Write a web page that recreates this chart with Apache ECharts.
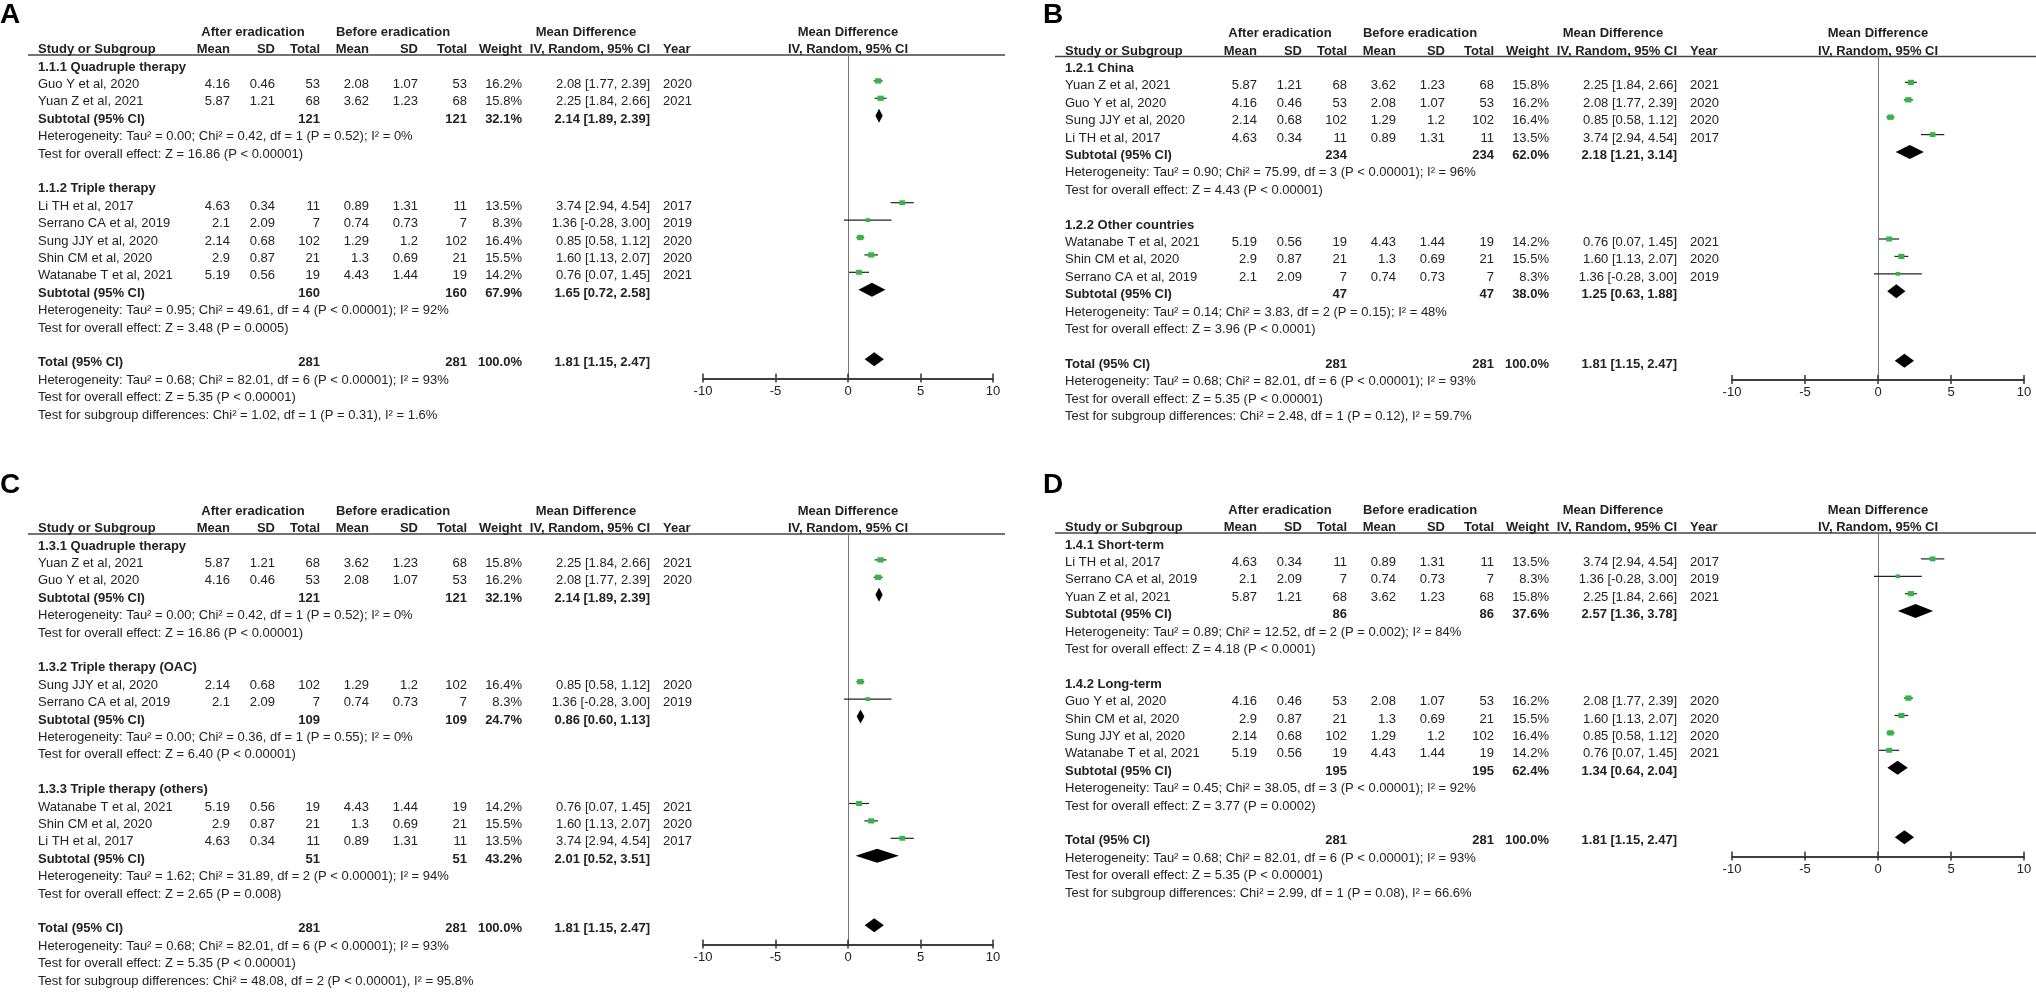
<!DOCTYPE html>
<html>
<head>
<meta charset="utf-8">
<title>Forest plots A-D</title>
<script src="https://cdn.jsdelivr.net/npm/echarts@6/dist/echarts.min.js"></script>
<style>
html, body { margin: 0; padding: 0; background: #fff; }
#chart { width: 2036px; height: 993px; }
</style>
</head>
<body>
<div id="chart"></div>
<script>
// ---- data ----
// the seven studies, reused (in different orders) by every panel
const studyNames = ['Guo Y et al, 2020', 'Yuan Z et al, 2021', 'Li TH et al, 2017', 'Serrano CA et al, 2019',
  'Sung JJY et al, 2020', 'Shin CM et al, 2020', 'Watanabe T et al, 2021'];
const afterMean = [4.16, 5.87, 4.63, 2.1, 2.14, 2.9, 5.19];
const afterSD = [0.46, 1.21, 0.34, 2.09, 0.68, 0.87, 0.56];
const afterTotal = [53, 68, 11, 7, 102, 21, 19];
const beforeMean = [2.08, 3.62, 0.89, 0.74, 1.29, 1.3, 4.43];
const beforeSD = [1.07, 1.23, 1.31, 0.73, 1.2, 0.69, 1.44];
const beforeTotal = [53, 68, 11, 7, 102, 21, 19];
const studyWeight = [16.2, 15.8, 13.5, 8.3, 16.4, 15.5, 14.2];
const studyMD = [2.08, 2.25, 3.74, 1.36, 0.85, 1.60, 0.76];
const studyLow = [1.77, 1.84, 2.94, -0.28, 0.58, 1.13, 0.07];
const studyHigh = [2.39, 2.66, 4.54, 3.00, 1.12, 2.07, 1.45];
const studyYear = [2020, 2021, 2017, 2019, 2020, 2020, 2021];

// subgroups per panel (A, B, C, D)
const panelNames = ['A', 'B', 'C', 'D'];
const groupTitles = [
  ['1.1.1 Quadruple therapy', '1.1.2 Triple therapy'],
  ['1.2.1 China', '1.2.2 Other countries'],
  ['1.3.1 Quadruple therapy', '1.3.2 Triple therapy (OAC)', '1.3.3 Triple therapy (others)'],
  ['1.4.1 Short-term', '1.4.2 Long-term']
];
const groupMembers = [
  [[0, 1], [2, 3, 4, 5, 6]],
  [[1, 0, 4, 2], [6, 5, 3]],
  [[1, 0], [4, 3], [6, 5, 2]],
  [[2, 3, 1], [0, 5, 4, 6]]
];
const groupTotal = [[121, 160], [234, 47], [121, 109, 51], [86, 195]];
const groupWeight = [[32.1, 67.9], [62.0, 38.0], [32.1, 24.7, 43.2], [37.6, 62.4]];
const groupMD = [[2.14, 1.65], [2.18, 1.25], [2.14, 0.86, 2.01], [2.57, 1.34]];
const groupLow = [[1.89, 0.72], [1.21, 0.63], [1.89, 0.60, 0.52], [1.36, 0.64]];
const groupHigh = [[2.39, 2.58], [3.14, 1.88], [2.39, 1.13, 3.51], [3.78, 2.04]];
const groupHeterogeneity = [
  ['Tau² = 0.00; Chi² = 0.42, df = 1 (P = 0.52); I² = 0%', 'Tau² = 0.95; Chi² = 49.61, df = 4 (P < 0.00001); I² = 92%'],
  ['Tau² = 0.90; Chi² = 75.99, df = 3 (P < 0.00001); I² = 96%', 'Tau² = 0.14; Chi² = 3.83, df = 2 (P = 0.15); I² = 48%'],
  ['Tau² = 0.00; Chi² = 0.42, df = 1 (P = 0.52); I² = 0%', 'Tau² = 0.00; Chi² = 0.36, df = 1 (P = 0.55); I² = 0%',
    'Tau² = 1.62; Chi² = 31.89, df = 2 (P < 0.00001); I² = 94%'],
  ['Tau² = 0.89; Chi² = 12.52, df = 2 (P = 0.002); I² = 84%', 'Tau² = 0.45; Chi² = 38.05, df = 3 (P < 0.00001); I² = 92%']
];
const groupEffect = [
  ['Z = 16.86 (P < 0.00001)', 'Z = 3.48 (P = 0.0005)'],
  ['Z = 4.43 (P < 0.00001)', 'Z = 3.96 (P < 0.0001)'],
  ['Z = 16.86 (P < 0.00001)', 'Z = 6.40 (P < 0.00001)', 'Z = 2.65 (P = 0.008)'],
  ['Z = 4.18 (P < 0.0001)', 'Z = 3.77 (P = 0.0002)']
];
const subgroupDifferences = [
  'Chi² = 1.02, df = 1 (P = 0.31), I² = 1.6%',
  'Chi² = 2.48, df = 1 (P = 0.12), I² = 59.7%',
  'Chi² = 48.08, df = 2 (P < 0.00001), I² = 95.8%',
  'Chi² = 2.99, df = 1 (P = 0.08), I² = 66.6%'
];
// overall pooled result (same in every panel)
const overallTotal = 281;
const overallWeight = 100.0;
const overallMD = 1.81;
const overallLow = 1.15;
const overallHigh = 2.47;
const overallHeterogeneity = 'Tau² = 0.68; Chi² = 82.01, df = 6 (P < 0.00001); I² = 93%';
const overallEffect = 'Z = 5.35 (P < 0.00001)';
const axisTicks = [-10, -5, 0, 5, 10];

// ---- layout ----
const FONT = '"Liberation Sans", Arial, sans-serif';
const TEXT = '#222';
const GREEN = '#35b546';
const PITCH = 17.4;   // row height in px
const MARK_DY = -3.5; // marks sit a little above the text middle
// column anchors, relative to the panel's table origin
const COL = { study: 38, mean1: 230, sd1: 275, n1: 320, mean2: 369, sd2: 418, n2: 467,
  weight: 522, ci: 650, year: 663, afterHead: 253, beforeHead: 393, mdHead: 586 };
const panelLayout = [
  { dx: 0, row0: 67, plotLeft: 703, plotWidth: 290, ruleRight: 1005, labelX: 0, labelY: 15 },
  { dx: 1027, row0: 68.5, plotLeft: 1732, plotWidth: 292, ruleRight: 2036, labelX: 1043, labelY: 15 },
  { dx: 0, row0: 546, plotLeft: 703, plotWidth: 290, ruleRight: 1005, labelX: 0, labelY: 485 },
  { dx: 1027, row0: 545, plotLeft: 1732, plotWidth: 292, ruleRight: 2036, labelX: 1043, labelY: 485 }
];

let fmtCI = (m, lo, hi) => m.toFixed(2) + ' [' + lo.toFixed(2) + ', ' + hi.toFixed(2) + ']';

// lay out the rows of one panel (row index -> line of the table)
let buildRows = p => {
  let rows = [{ kind: 'head1', idx: -2 }, { kind: 'head2', idx: -1 }];
  let k = 0;
  groupTitles[p].forEach((title, g) => {
    rows.push({ kind: 'title', idx: k++, text: title });
    groupMembers[p][g].forEach(s => rows.push({ kind: 'study', idx: k++, s: s }));
    rows.push({ kind: 'pooled', idx: k++, label: 'Subtotal (95% CI)', n: groupTotal[p][g], w: groupWeight[p][g],
      md: groupMD[p][g], lo: groupLow[p][g], hi: groupHigh[p][g] });
    rows.push({ kind: 'note', idx: k++, text: 'Heterogeneity: ' + groupHeterogeneity[p][g] });
    rows.push({ kind: 'note', idx: k++, text: 'Test for overall effect: ' + groupEffect[p][g] });
    k++; // blank line
  });
  let totalIdx = k;
  rows.push({ kind: 'pooled', idx: k++, label: 'Total (95% CI)', n: overallTotal, w: overallWeight,
    md: overallMD, lo: overallLow, hi: overallHigh });
  rows.push({ kind: 'note', idx: k++, text: 'Heterogeneity: ' + overallHeterogeneity });
  rows.push({ kind: 'note', idx: k++, text: 'Test for overall effect: ' + overallEffect });
  rows.push({ kind: 'note', idx: k++, text: 'Test for subgroup differences: ' + subgroupDifferences[p] });
  return { rows: rows, totalIdx: totalIdx };
};

let txt = (text, x, y, align, bold) => ({
  type: 'text',
  style: {
    text: String(text), x: x, y: y,
    align: align, textAlign: align, verticalAlign: 'middle', textVerticalAlign: 'middle',
    fill: TEXT, font: (bold ? 'bold ' : '') + '13px ' + FONT
  }
});

let makeRenderer = (rows, lay) => (params, api) => {
  let r = rows[params.dataIndex];
  let y = api.coord([0, r.idx])[1];
  let ym = y + MARK_DY;
  let X = c => lay.dx + c;
  let kids = [];
  if (r.kind === 'head1') {
    kids.push(txt('After eradication', X(COL.afterHead), y, 'center', true));
    kids.push(txt('Before eradication', X(COL.beforeHead), y, 'center', true));
    kids.push(txt('Mean Difference', X(COL.mdHead), y, 'center', true));
    kids.push(txt('Mean Difference', api.coord([0, r.idx])[0], y, 'center', true));
  } else if (r.kind === 'head2') {
    kids.push(txt('Study or Subgroup', X(COL.study), y, 'left', true));
    kids.push(txt('Mean', X(COL.mean1), y, 'right', true));
    kids.push(txt('SD', X(COL.sd1), y, 'right', true));
    kids.push(txt('Total', X(COL.n1), y, 'right', true));
    kids.push(txt('Mean', X(COL.mean2), y, 'right', true));
    kids.push(txt('SD', X(COL.sd2), y, 'right', true));
    kids.push(txt('Total', X(COL.n2), y, 'right', true));
    kids.push(txt('Weight', X(COL.weight), y, 'right', true));
    kids.push(txt('IV, Random, 95% CI', X(COL.ci), y, 'right', true));
    kids.push(txt('Year', X(COL.year), y, 'left', true));
    kids.push(txt('IV, Random, 95% CI', api.coord([0, r.idx])[0], y, 'center', true));
  } else if (r.kind === 'title') {
    kids.push(txt(r.text, X(COL.study), y, 'left', true));
  } else if (r.kind === 'note') {
    kids.push(txt(r.text, X(COL.study), y, 'left', false));
  } else if (r.kind === 'study') {
    let s = r.s;
    kids.push(txt(studyNames[s], X(COL.study), y, 'left', false));
    kids.push(txt(afterMean[s], X(COL.mean1), y, 'right', false));
    kids.push(txt(afterSD[s], X(COL.sd1), y, 'right', false));
    kids.push(txt(afterTotal[s], X(COL.n1), y, 'right', false));
    kids.push(txt(beforeMean[s], X(COL.mean2), y, 'right', false));
    kids.push(txt(beforeSD[s], X(COL.sd2), y, 'right', false));
    kids.push(txt(beforeTotal[s], X(COL.n2), y, 'right', false));
    kids.push(txt(studyWeight[s].toFixed(1) + '%', X(COL.weight), y, 'right', false));
    kids.push(txt(fmtCI(studyMD[s], studyLow[s], studyHigh[s]), X(COL.ci), y, 'right', false));
    kids.push(txt(studyYear[s], X(COL.year), y, 'left', false));
    // CI whisker and weighted square
    let lo = api.coord([studyLow[s], r.idx])[0];
    let hi = api.coord([studyHigh[s], r.idx])[0];
    let c = api.coord([studyMD[s], r.idx])[0];
    let w = 1.55 * Math.sqrt(studyWeight[s]);
    let h = w * 0.85;
    kids.push({ type: 'line', shape: { x1: lo, y1: ym, x2: hi, y2: ym }, style: { stroke: '#222', lineWidth: 1.2 } });
    kids.push({ type: 'rect', shape: { x: c - w / 2, y: ym - h / 2, width: w, height: h }, style: { fill: GREEN } });
  } else if (r.kind === 'pooled') {
    kids.push(txt(r.label, X(COL.study), y, 'left', true));
    kids.push(txt(r.n, X(COL.n1), y, 'right', true));
    kids.push(txt(r.n, X(COL.n2), y, 'right', true));
    kids.push(txt(r.w.toFixed(1) + '%', X(COL.weight), y, 'right', true));
    kids.push(txt(fmtCI(r.md, r.lo, r.hi), X(COL.ci), y, 'right', true));
    let lo = api.coord([r.lo, r.idx])[0];
    let hi = api.coord([r.hi, r.idx])[0];
    let c = api.coord([r.md, r.idx])[0];
    kids.push({ type: 'polygon', shape: { points: [[lo, ym], [c, ym - 7], [hi, ym], [c, ym + 7]] }, style: { fill: '#000' } });
  }
  return { type: 'group', children: kids };
};

let chart = echarts.init(document.getElementById('chart'), null, { renderer: 'canvas' });

let grids = [], xAxes = [], yAxes = [], series = [], graphics = [];
panelNames.forEach((name, p) => {
  let lay = panelLayout[p];
  let built = buildRows(p);
  let top = lay.row0 - 12;
  let axisRow = built.totalIdx + 0.9;
  grids.push({ left: lay.plotLeft, width: lay.plotWidth, top: top, height: axisRow * PITCH + 12 });
  let xBase = {
    gridIndex: p, type: 'value', position: 'bottom',
    min: axisTicks[0], max: axisTicks[axisTicks.length - 1], interval: axisTicks[1] - axisTicks[0],
    axisLine: { onZero: false, lineStyle: { color: '#333', width: 1.5 } },
    splitLine: { show: false }
  };
  xAxes.push(Object.assign({}, xBase, {
    axisTick: { length: 4, lineStyle: { color: '#333', width: 1.5 } },
    axisLabel: { margin: 6, fontSize: 13, color: TEXT, fontFamily: FONT }
  }));
  xAxes.push(Object.assign({}, xBase, {
    axisTick: { inside: true, length: 5, lineStyle: { color: '#333', width: 1.5 } },
    axisLabel: { show: false }
  }));
  yAxes.push({
    gridIndex: p, type: 'value', inverse: true, min: -12 / PITCH, max: axisRow,
    axisLine: { show: true, onZero: true, onZeroAxisIndex: p * 2, lineStyle: { color: '#777', width: 1 } },
    axisTick: { show: false }, axisLabel: { show: false }, splitLine: { show: false }
  });
  series.push({
    type: 'custom', name: name, coordinateSystem: 'cartesian2d',
    xAxisIndex: p * 2, yAxisIndex: p, clip: false, silent: true,
    data: built.rows.map(r => [0, r.idx]),
    renderItem: makeRenderer(built.rows, lay)
  });
  // header rule and panel letter
  graphics.push({
    type: 'line', shape: { x1: lay.dx + 28, y1: top, x2: lay.ruleRight, y2: top },
    style: { stroke: '#444', lineWidth: 1.6 }
  });
  graphics.push({
    type: 'text', x: lay.labelX, y: lay.labelY,
    style: { text: name, x: 0, y: 0, fill: '#000', font: 'bold 28px ' + FONT,
      verticalAlign: 'middle', textVerticalAlign: 'middle' }
  });
});

chart.setOption({
  backgroundColor: '#fff',
  animation: false,
  grid: grids,
  xAxis: xAxes,
  yAxis: yAxes,
  series: series,
  graphic: graphics
});
</script>
</body>
</html>
